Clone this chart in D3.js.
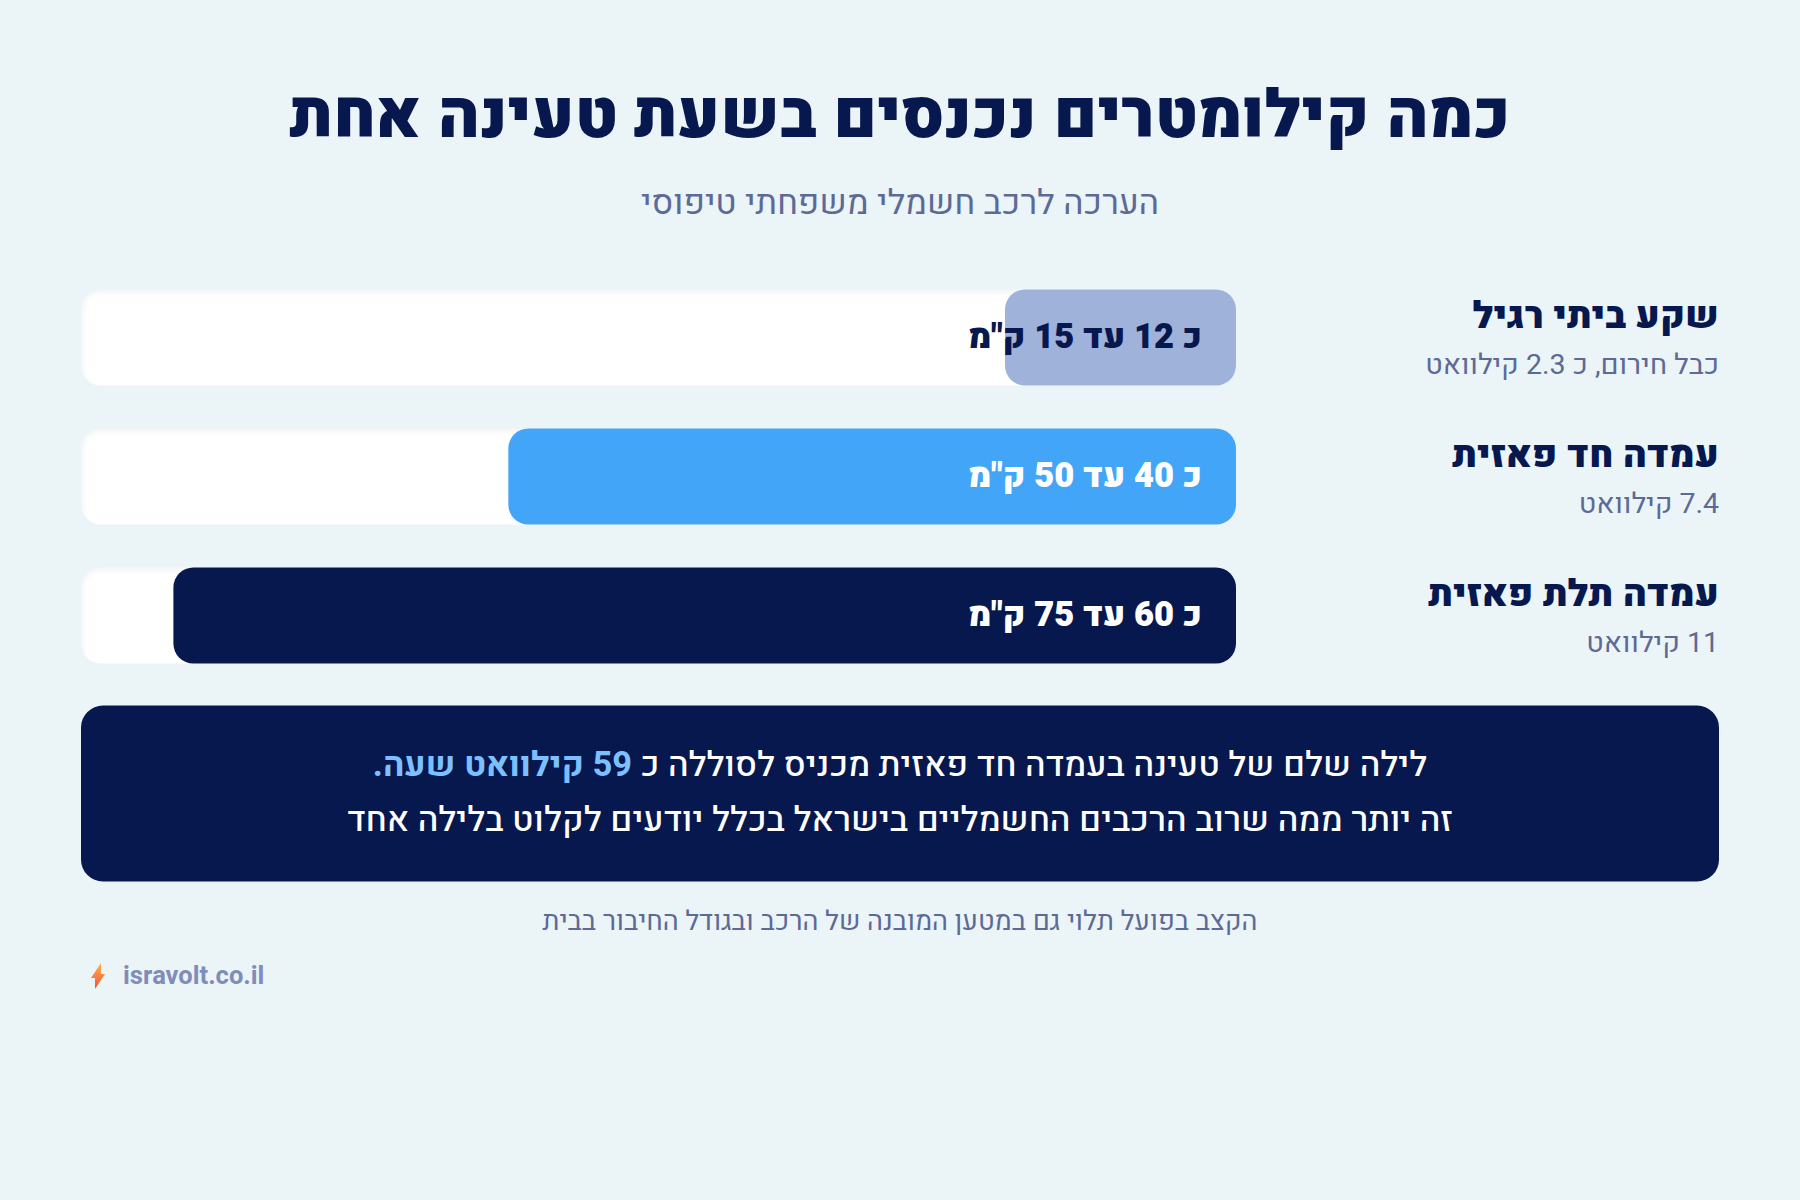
<!DOCTYPE html>
<html lang="he" dir="rtl">
<head>
<meta charset="utf-8">
<script src="https://cdn.jsdelivr.net/npm/d3@7"></script>
<style>
  html, body { margin: 0; padding: 0; background: #ebf4f7; }
  svg { display: block; font-family: Heebo, Roboto, sans-serif; }
  text { direction: rtl; }
</style>
</head>
<body>
<div id="chart"></div>
<script>
// chart content
var titleText = "כמה קילומטרים נכנסים בשעת טעינה אחת";
var subtitleText = "הערכה לרכב חשמלי משפחתי טיפוסי";
var categories = ["שקע ביתי רגיל", "עמדה חד פאזית", "עמדה תלת פאזית"];
var subLabels = ["כבל חירום, כ 2.3 קילוואט", "7.4 קילוואט", "11 קילוואט"];
var valueLabels = ["כ 12 עד 15 ק\"מ", "כ 40 עד 50 ק\"מ", "כ 60 עד 75 ק\"מ"];
// bar length as a share of the track
var barShare = [20, 63, 92];
var barColors = ["#9fb3da", "#42a5f8", "#07184f"];
var labelColors = ["#07184f", "#ffffff", "#ffffff"];
var footnote = "הקצב בפועל תלוי גם במטען המובנה של הרכב ובגודל החיבור בבית";
var brand = "isravolt.co.il";

var width = 1800, height = 1200;
var navy = "#07184f", muted = "#5d6a96";

var svg = d3.select("#chart").append("svg")
    .attr("width", width)
    .attr("height", height);

var defs = svg.append("defs");
defs.append("filter").attr("id", "soft")
    .attr("x", "-5%").attr("y", "-20%").attr("width", "110%").attr("height", "140%")
  .append("feGaussianBlur").attr("stdDeviation", 3);

var grad = defs.append("linearGradient").attr("id", "bolt")
    .attr("x1", 0).attr("y1", 0).attr("x2", 0).attr("y2", 1);
grad.append("stop").attr("offset", "0%").attr("stop-color", "#ffb347");
grad.append("stop").attr("offset", "100%").attr("stop-color", "#f4513a");

// header
svg.append("text")
    .attr("x", 900).attr("y", 137)
    .attr("text-anchor", "middle")
    .attr("fill", navy)
    .style("font-size", "66px").style("font-weight", 900)
    .text(titleText);

svg.append("text")
    .attr("x", 900).attr("y", 214)
    .attr("text-anchor", "middle")
    .attr("fill", muted)
    .style("font-size", "34.4px")
    .text(subtitleText);

// scales: the bars grow right to left from the end of the track
var trackLeft = 81, trackRight = 1236;
var x = d3.scaleLinear().domain([0, 100]).range([trackRight, trackLeft]);
var y = d3.scaleBand().domain(categories).range([289.5, 663.5]).paddingInner(43 / 139);

var rows = svg.selectAll("g.row")
    .data(categories)
    .enter().append("g")
    .attr("class", "row")
    .attr("transform", d => `translate(0, ${y(d)})`);

rows.append("rect")
    .attr("x", trackLeft).attr("y", 0)
    .attr("width", trackRight - trackLeft).attr("height", y.bandwidth())
    .attr("rx", 20)
    .attr("fill", "#ffffff");

// soft inner edge on the top and left of the track
defs.append("clipPath").attr("id", "trackClip")
  .append("rect")
    .attr("x", trackLeft).attr("y", 0)
    .attr("width", trackRight - trackLeft).attr("height", y.bandwidth())
    .attr("rx", 20);

rows.append("g").attr("clip-path", "url(#trackClip)")
  .append("rect")
    .attr("x", trackLeft - 2).attr("y", -1)
    .attr("width", trackRight - trackLeft + 10).attr("height", y.bandwidth() + 10)
    .attr("rx", 20)
    .attr("fill", "none")
    .attr("stroke", "#e8ebed").attr("stroke-width", 5)
    .attr("filter", "url(#soft)");

rows.append("rect")
    .attr("x", (d, i) => x(barShare[i]))
    .attr("y", 0)
    .attr("width", (d, i) => trackRight - x(barShare[i]))
    .attr("height", y.bandwidth())
    .attr("rx", 20)
    .attr("fill", (d, i) => barColors[i]);

rows.append("text")
    .attr("x", 1202).attr("y", 58)
    .attr("text-anchor", "start")
    .attr("fill", (d, i) => labelColors[i])
    .style("font-size", "34.4px").style("font-weight", 900)
    .text((d, i) => valueLabels[i]);

rows.append("text")
    .attr("x", 1719).attr("y", 38)
    .attr("text-anchor", "start")
    .attr("fill", navy)
    .style("font-size", "37.6px").style("font-weight", 900)
    .text(d => d);

rows.append("text")
    .attr("x", 1719).attr("y", 84)
    .attr("text-anchor", "start")
    .attr("fill", muted)
    .style("font-size", "28.5px")
    .text((d, i) => subLabels[i]);

// callout panel
svg.append("rect")
    .attr("x", 81).attr("y", 705.5)
    .attr("width", 1638).attr("height", 176)
    .attr("rx", 22)
    .attr("fill", navy);

var line1 = svg.append("text")
    .attr("x", 900).attr("y", 776)
    .attr("text-anchor", "middle")
    .attr("fill", "#ffffff")
    .style("font-size", "34.5px").style("font-weight", 500);
line1.append("tspan").text("לילה שלם של טעינה בעמדה חד פאזית מכניס לסוללה כ ");
line1.append("tspan").attr("fill", "#7cc0ff").style("font-weight", 700).text("59 קילוואט שעה.");

svg.append("text")
    .attr("x", 900).attr("y", 831)
    .attr("text-anchor", "middle")
    .attr("fill", "#ffffff")
    .style("font-size", "34.5px").style("font-weight", 500)
    .text("זה יותר ממה שרוב הרכבים החשמליים בישראל בכלל יודעים לקלוט בלילה אחד");

svg.append("text")
    .attr("x", 900).attr("y", 930)
    .attr("text-anchor", "middle")
    .attr("fill", muted)
    .style("font-size", "27px")
    .text(footnote);

// brand mark
svg.append("path")
    .attr("d", "M101 963 L91 978 L95 978 L95 989 L105 974 L101 974 Z")
    .attr("fill", "url(#bolt)");

svg.append("text")
    .attr("x", 123).attr("y", 984)
    .attr("text-anchor", "start")
    .attr("fill", "#7f8db8")
    .style("direction", "ltr")
    .style("font-size", "25.5px").style("font-weight", 700)
    .text(brand);
</script>
</body>
</html>
